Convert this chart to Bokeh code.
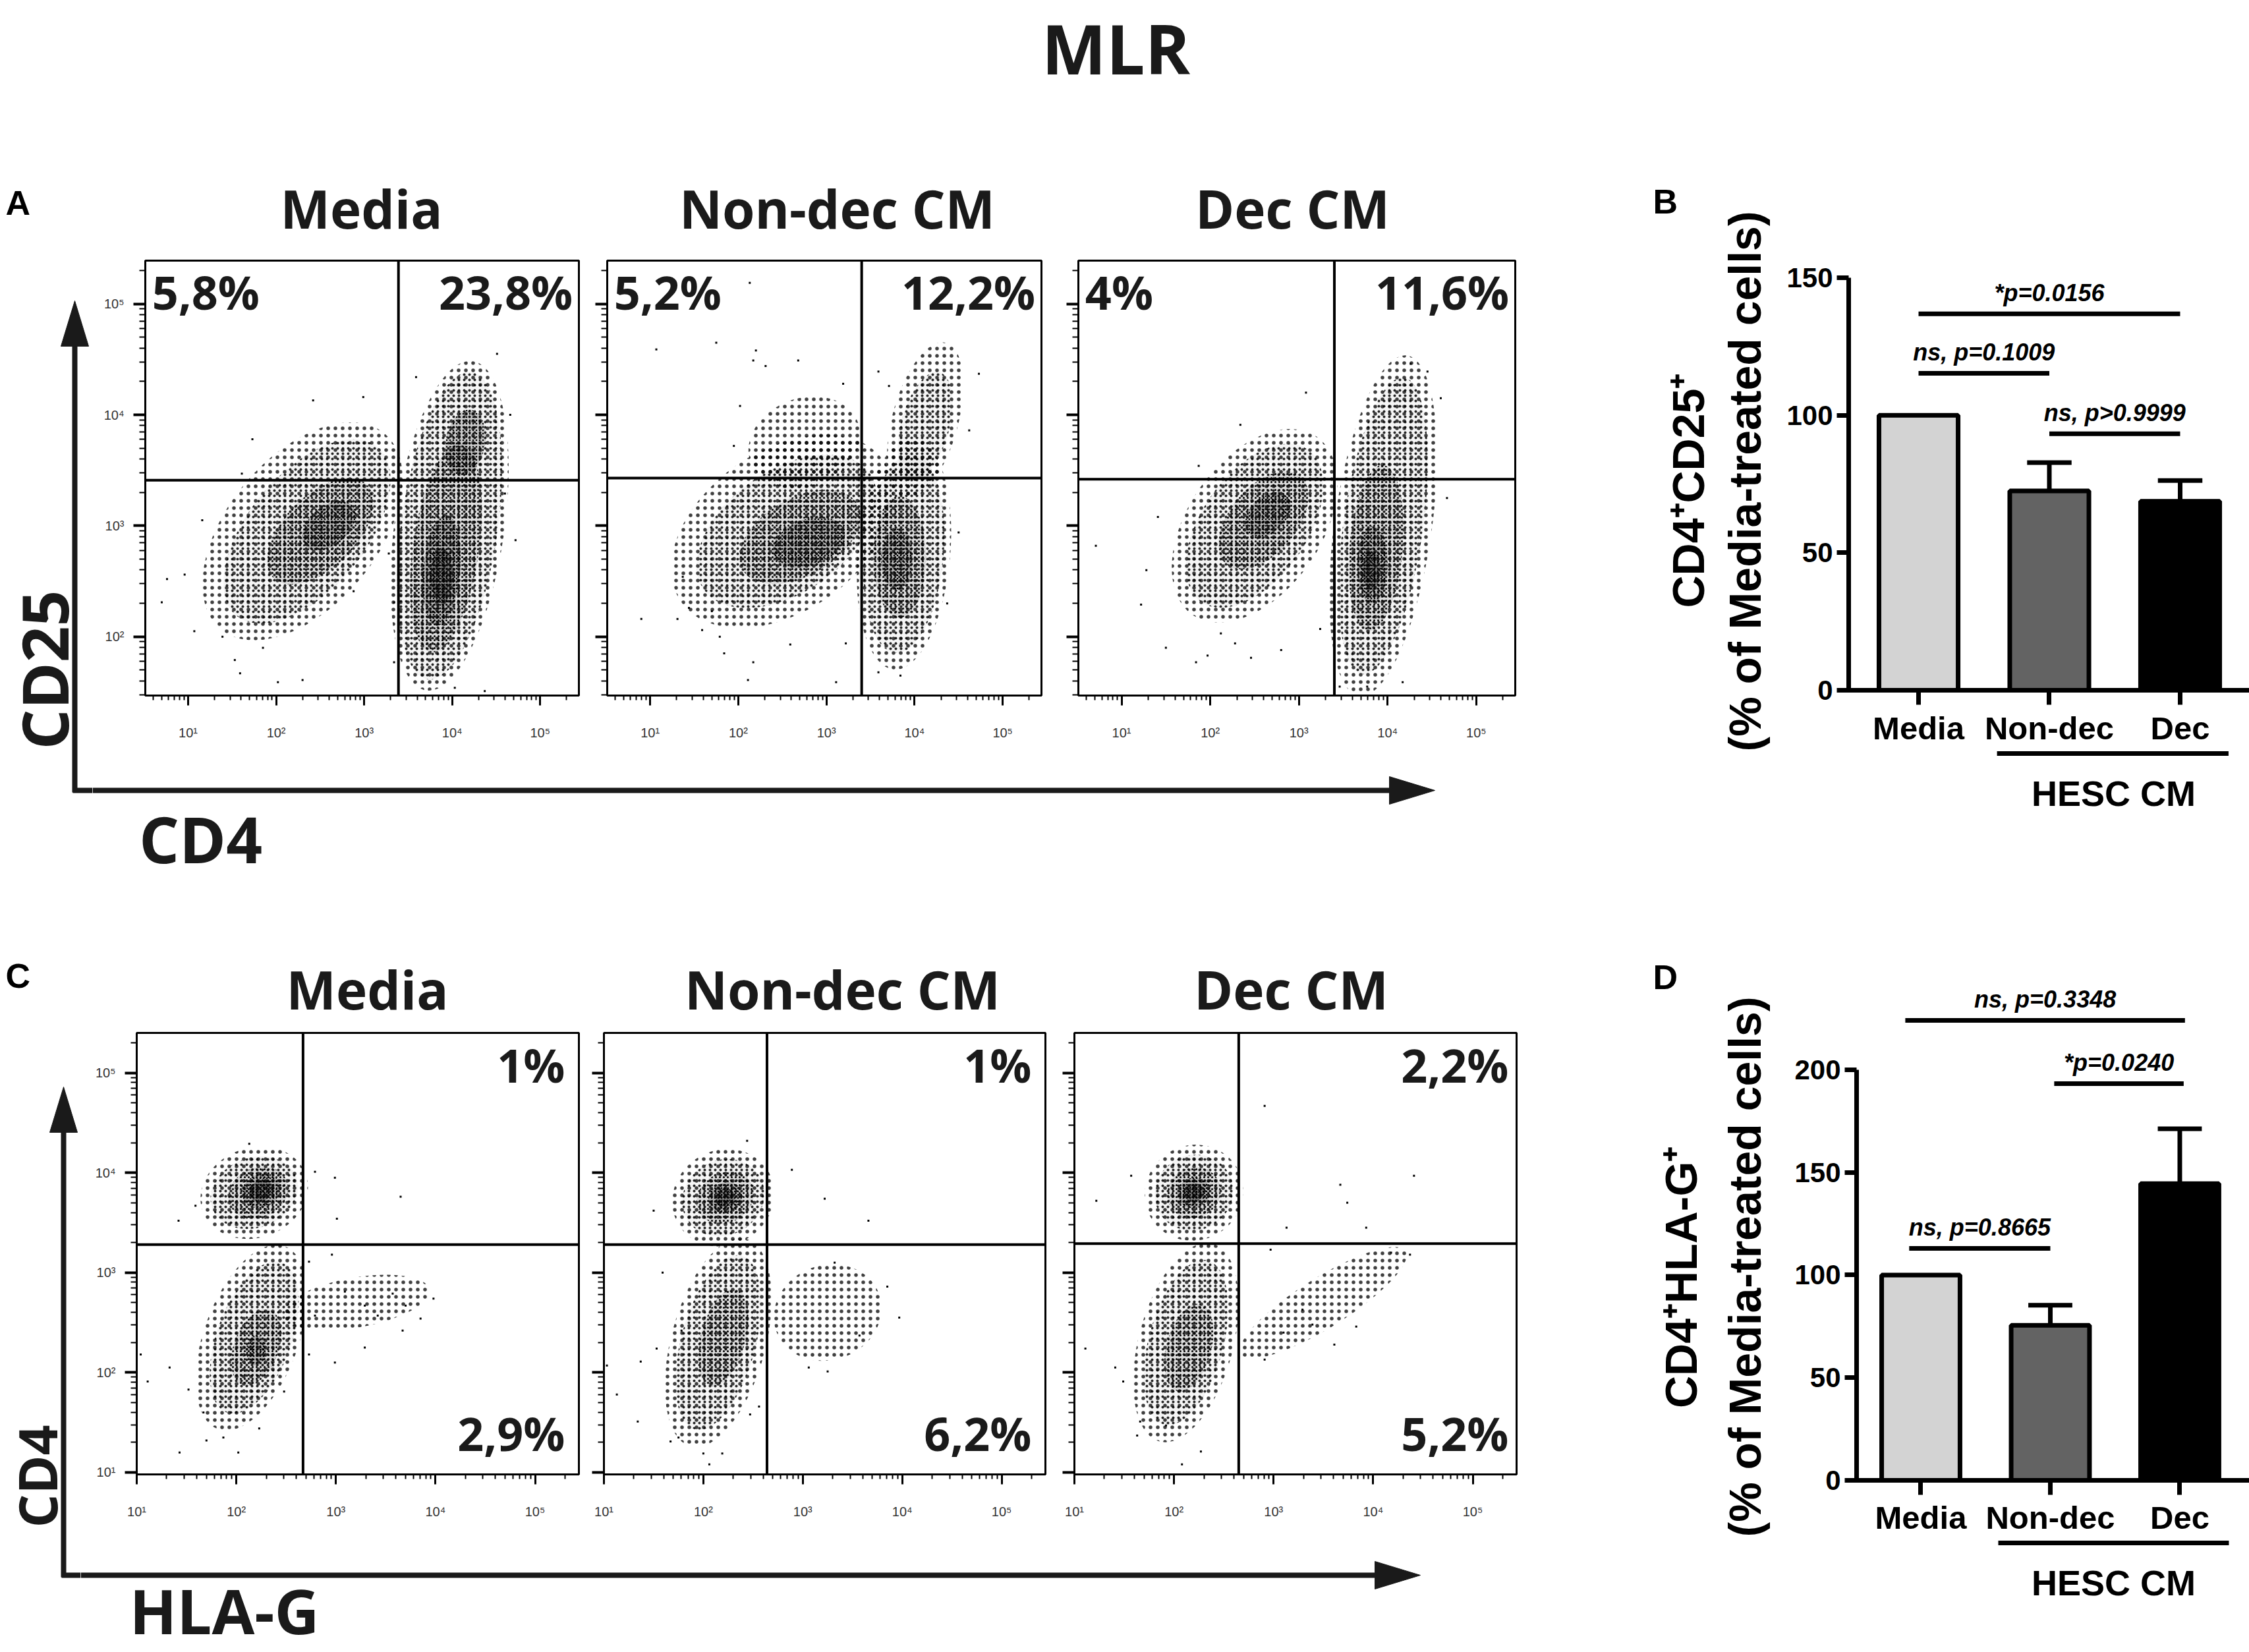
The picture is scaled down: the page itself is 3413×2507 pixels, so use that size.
import math
from bokeh.plotting import figure
from bokeh.layouts import row, column
from bokeh.models import Range1d, FixedTicker, Span, ColumnDataSource
from bokeh.core.properties import value
from bokeh.embed import file_html
from bokeh.resources import INLINE

# ------------------------------------------------------------------ data
fig_title = "MLR"
panel_titles = ["Media", "Non-dec CM", "Dec CM"]
panel_letters = ["A", "B", "C", "D"]
decade_ticks = [1, 2, 3, 4, 5]
decade_labels = ["10\u00b9", "10\u00b2", "10\u00b3", "10\u2074", "10\u2075"]

# flow panels A (CD4 vs CD25), values in log10 units
A_xlabel, A_ylabel = "CD4", "CD25"
A_gate_x = [3.39, 3.40, 3.40]
A_gate_y = [3.41, 3.43, 3.42]
A_pct_upper_left = ["5,8%", "5,2%", "4%"]
A_pct_upper_right = ["23,8%", "12,2%", "11,6%"]

# flow panels C (HLA-G vs CD4)
C_xlabel, C_ylabel = "HLA-G", "CD4"
C_gate_x = [2.67, 2.64, 2.65]
C_gate_y = [3.28, 3.28, 3.29]
C_pct_upper_right = ["1%", "1%", "2,2%"]
C_pct_lower_right = ["2,9%", "6,2%", "5,2%"]

# event clouds:
# (centre log10 x, centre log10 y, width, height [decades], tilt deg, density level)
A_media_pops = [
    (3.97, 3.00, 1.25, 3.00, -8, -1),
    (3.97, 3.00, 1.10, 2.80, -8, 0), (3.93, 2.80, 0.75, 1.90, -8, 1),
    (3.88, 2.60, 0.42, 1.00, -5, 2), (4.15, 3.75, 0.45, 0.60, -10, 2),
    (3.88, 2.55, 0.25, 0.50, 0, 3),
    (2.30, 2.95, 2.90, 1.35, 50, -1),
    (2.35, 2.95, 2.50, 1.05, 50, 0), (2.50, 2.95, 1.50, 0.65, 45, 1),
    (2.60, 3.00, 0.70, 0.35, 40, 2),
]
A_nondec_pops = [
    (2.50, 2.95, 2.80, 1.45, 35, -1), (2.75, 3.75, 1.30, 0.80, 20, -1),
    (2.55, 2.95, 2.30, 1.10, 35, 0),
    (2.70, 2.90, 1.50, 0.70, 30, 1), (2.80, 2.85, 0.85, 0.42, 20, 2),
    (3.88, 2.75, 1.05, 2.10, -5, -1), (4.12, 3.95, 0.75, 1.45, -15, -1),
    (3.88, 2.75, 0.90, 1.80, -5, 0), (4.12, 3.90, 0.55, 1.00, -15, 0),
    (3.83, 2.72, 0.60, 1.10, 0, 1), (3.80, 2.70, 0.36, 0.55, 0, 2),
]
A_dec_pops = [
    (2.50, 3.00, 2.45, 1.20, 55, -1),
    (2.50, 3.00, 2.10, 0.95, 55, 0), (2.60, 3.05, 1.30, 0.60, 50, 1),
    (2.65, 3.10, 0.60, 0.32, 45, 2),
    (3.95, 3.00, 1.10, 3.10, -8, -1),
    (3.95, 3.00, 0.90, 2.70, -8, 0), (3.87, 2.80, 0.60, 1.50, -5, 1),
    (3.83, 2.65, 0.34, 0.70, 0, 2), (3.82, 2.60, 0.20, 0.35, 0, 3),
]
C_media_pops = [
    (2.18, 3.80, 1.10, 0.90, 20, -1),
    (2.18, 3.80, 0.90, 0.70, 20, 0), (2.22, 3.80, 0.62, 0.50, 25, 1),
    (2.25, 3.82, 0.40, 0.33, 30, 2), (2.25, 3.82, 0.25, 0.20, 30, 3),
    (2.15, 2.35, 0.95, 1.95, -20, -1),
    (2.18, 2.35, 0.75, 1.60, -20, 0), (2.20, 2.25, 0.45, 0.80, -20, 1),
    (2.20, 2.22, 0.20, 0.30, 0, 2),
    (3.20, 2.70, 1.50, 0.50, 10, -1),
]
C_nondec_pops = [
    (2.20, 3.75, 1.05, 0.95, 30, -1),
    (2.20, 3.75, 0.85, 0.75, 30, 0), (2.22, 3.75, 0.60, 0.50, 30, 1),
    (2.22, 3.75, 0.35, 0.30, 30, 2), (2.22, 3.75, 0.20, 0.18, 30, 3),
    (2.15, 2.30, 0.95, 2.15, -15, -1),
    (2.15, 2.30, 0.75, 1.80, -15, 0), (2.20, 2.35, 0.45, 1.00, -15, 1),
    (3.25, 2.60, 1.10, 0.95, 20, -1),
]
C_dec_pops = [
    (2.20, 3.80, 1.00, 0.95, 30, -1),
    (2.20, 3.80, 0.80, 0.75, 30, 0), (2.20, 3.80, 0.55, 0.50, 30, 1),
    (2.20, 3.80, 0.33, 0.30, 30, 2), (2.20, 3.80, 0.20, 0.18, 30, 3),
    (2.12, 2.30, 0.95, 2.05, -15, -1),
    (2.12, 2.30, 0.75, 1.70, -15, 0), (2.15, 2.25, 0.45, 0.90, -15, 1),
    (3.50, 2.70, 1.95, 0.50, 32, -1),
]

# isolated events (log10 x, log10 y)
A_media_events_x = [0.70, 0.76, 0.96, 1.07, 1.16, 1.39, 1.53, 1.59, 1.85, 2.02, 2.30, 3.34, 3.34,
                    4.37, 4.03, 3.59, 4.66, 4.51, 1.73, 1.61, 2.99, 2.42, 4.60, 4.72, 2.88, 3.28]
A_media_events_y = [2.31, 2.52, 2.56, 2.05, 3.05, 2.00, 1.79, 1.67, 1.90, 1.59, 1.61, 1.77, 2.31,
                    1.51, 1.54, 4.34, 4.00, 4.55, 3.78, 3.47, 4.16, 4.13, 3.29, 2.87, 2.41, 2.75]
A_nondec_events_x = [1.07, 1.75, 2.13, 2.20, 2.17, 2.31, 2.68, 0.90, 1.31, 1.37, 1.44, 1.59, 1.70,
                     1.79, 1.84, 2.11, 2.17, 2.59, 3.11, 3.22, 3.59, 3.84, 3.59, 3.71, 4.73, 4.62,
                     4.50, 4.37, 3.19, 2.02, 1.95]
A_nondec_events_y = [4.59, 4.65, 5.19, 4.58, 4.49, 4.44, 4.49, 2.16, 2.16, 2.54, 2.26, 2.06, 2.23,
                     2.00, 1.85, 1.61, 1.77, 1.93, 1.59, 1.94, 1.68, 1.65, 4.39, 4.26, 4.37, 3.86,
                     2.94, 2.30, 4.28, 4.08, 3.72]
A_dec_events_x = [0.71, 1.22, 1.28, 1.41, 1.50, 1.84, 1.97, 2.12, 2.28, 2.46, 2.34, 1.87, 3.08,
                  3.24, 3.77, 4.17, 4.60, 4.67, 3.46, 2.80, 4.45, 4.26]
A_dec_events_y = [2.82, 2.29, 2.60, 3.08, 1.90, 1.77, 1.83, 2.03, 1.94, 1.81, 3.91, 3.54, 4.20,
                  2.07, 1.55, 1.59, 4.15, 3.25, 1.55, 1.88, 4.39, 4.46]
C_media_events_x = [1.11, 1.33, 1.42, 1.59, 1.52, 1.67, 1.70, 1.87, 2.02, 1.43, 2.13, 2.79, 2.99,
                    3.01, 3.65, 2.73, 2.96, 2.79, 3.09, 3.29, 3.42, 3.57, 3.70, 3.85, 3.98, 3.29,
                    3.67, 2.99, 2.73, 1.04, 2.23, 2.48]
C_media_events_y = [1.91, 2.05, 3.52, 3.67, 1.83, 1.60, 1.32, 1.35, 1.20, 1.20, 4.29, 4.01, 3.95,
                    3.54, 3.76, 3.11, 3.18, 2.57, 2.81, 2.67, 2.57, 2.79, 2.67, 2.54, 2.74, 2.25,
                    2.42, 2.10, 2.18, 2.18, 1.44, 1.81]
C_nondec_events_x = [1.03, 1.13, 1.34, 1.37, 1.50, 1.59, 1.67, 1.75, 1.78, 2.00, 2.19, 2.47, 2.44,
                     2.89, 3.22, 3.66, 3.97, 3.85, 3.32, 3.06, 3.25, 3.57, 2.56, 1.53, 2.06]
C_nondec_events_y = [2.07, 1.78, 1.51, 2.11, 3.62, 3.00, 1.31, 1.35, 2.42, 1.19, 1.19, 1.58, 4.32,
                     4.03, 3.74, 3.52, 2.55, 2.86, 3.10, 2.05, 2.01, 2.37, 1.66, 2.24, 1.08]
C_dec_events_x = [1.11, 1.22, 1.41, 1.49, 1.57, 1.63, 1.66, 1.92, 2.08, 2.27, 2.91, 3.13, 3.67,
                  3.74, 3.93, 4.41, 2.97, 2.91, 3.10, 3.39, 3.61, 3.83, 4.18, 4.37, 3.29, 2.65]
C_dec_events_y = [2.24, 3.72, 2.05, 1.91, 3.97, 1.37, 1.51, 1.47, 1.08, 1.21, 4.67, 3.45, 3.88,
                  3.70, 3.45, 3.97, 3.23, 2.13, 2.40, 2.48, 2.28, 2.46, 3.20, 3.18, 2.63, 2.15]

# bar charts
bar_categories = ["Media", "Non-dec", "Dec"]
bar_colors = ["#d3d3d3", "#636363", "#000000"]
group_label = "HESC CM"

B_ylabel = ["CD4\u207aCD25\u207a", "(% of Media-treated cells)"]
B_means = [100, 72.5, 68.7]
B_sem = [0, 10.3, 7.6]
B_yticks = [0, 50, 100, 150]
B_sig_x0 = [0, 0, 1]
B_sig_x1 = [2, 1, 2]
B_sig_y = [136.9, 115.3, 93.3]
B_sig_text = ["*p=0.0156", "ns, p=0.1009", "ns, p>0.9999"]

D_ylabel = ["CD4\u207aHLA-G\u207a", "(% of Media-treated cells)"]
D_means = [100, 75.5, 144.5]
D_sem = [0, 9.8, 26.7]
D_yticks = [0, 50, 100, 150, 200]
D_sig_x0 = [-0.12, -0.09, 1.03]
D_sig_x1 = [2.04, 1.00, 2.03]
D_sig_y = [224.0, 113.0, 193.2]
D_sig_text = ["ns, p=0.3348", "ns, p=0.8665", "*p=0.0240"]

# ------------------------------------------------------------------ styles
HUM = value("Open Sans")
ARIAL = value("Liberation Sans")
ARIAL_NAME = "Liberation Sans"
INK = "#1a1a1a"
# level: (hatch spacing, hatch alpha, fill alpha)
LEVEL_STYLE = {-1: (11, 0.75, 0.0), 0: (8, 0.85, 0.04), 1: (6, 1.0, 0.10),
               2: (5, 1.0, 0.18), 3: (4, 1.0, 0.28)}


def base_fig(w, h, xr, yr, **kw):
    p = figure(width=w, height=h, x_range=xr, y_range=yr, title=None,
               toolbar_location=None, output_backend="svg", **kw)
    p.background_fill_color = "white"
    p.border_fill_color = "white"
    return p


def strip(x0, x1, y0, y1):
    p = base_fig(x1 - x0, y1 - y0, Range1d(x0, x1), Range1d(y1, y0),
                 x_axis_location=None, y_axis_location=None, min_border=0)
    p.grid.visible = False
    p.outline_line_color = None
    return p


def big_text(p, x, y, t, size, font=HUM, align="center", angle=0.0,
             style="bold", color=INK):
    p.text(x=x, y=y, text=t, angle=angle, text_font=font, text_font_style=style,
           text_font_size=size, text_align=align, text_baseline="middle", text_color=color)


def arrow_v(p, x, y_base, y_tip, head_len=69, half=21, lw=8):
    p.segment(x0=[x], y0=[y_base + 3], x1=[x], y1=[y_tip + head_len - 4],
              line_width=lw, line_color=INK)
    p.patch(x=[x - half, x + half, x], y=[y_tip + head_len, y_tip + head_len, y_tip],
            fill_color=INK, line_color=INK, line_width=1)


def arrow_h(p, x_start, y, x_tip, head_len=69, half=21, lw=8):
    p.segment(x0=[x_start], y0=[y], x1=[x_tip - head_len + 4], y1=[y],
              line_width=lw, line_color=INK)
    p.patch(x=[x_tip - head_len, x_tip - head_len, x_tip], y=[y - half, y + half, y],
            fill_color=INK, line_color=INK, line_width=1)


def add_pops(p, pops):
    for lvl in sorted(set(t[5] for t in pops)):
        sel = [t for t in pops if t[5] == lvl]
        src = ColumnDataSource(dict(
            x=[t[0] for t in sel], y=[t[1] for t in sel],
            w=[t[2] for t in sel], h=[t[3] for t in sel],
            a=[math.radians(t[4]) for t in sel]))
        sc, al, fa = LEVEL_STYLE[lvl]
        p.ellipse(x="x", y="y", width="w", height="h", angle="a", source=src,
                  fill_color="black", fill_alpha=fa, line_color=None, hatch_pattern="dot",
                  hatch_scale=sc, hatch_color="black", hatch_alpha=al)


def flow_panel(x0, x1, y0, y1, fl, fr, ft, fb, xr, yr, ylabels, pops, ev_x, ev_y, gx, gy,
               tl=None, tr=None, br=None, tl_x=0.59, tr_x=5.37, top_y=5.105, br_y=1.39):
    p = base_fig(x1 - x0, y1 - y0, Range1d(*xr), Range1d(*yr),
                 min_border_left=fl - x0, min_border_right=x1 - fr,
                 min_border_top=ft - y0, min_border_bottom=y1 - fb)
    p.grid.visible = False
    p.outline_line_color = "black"
    p.outline_line_width = 3
    minor = [d + math.log10(k) for d in range(0, 6) for k in range(2, 10)]
    for ax, rng in ((p.xaxis, xr), (p.yaxis, yr)):
        ax.ticker = FixedTicker(ticks=decade_ticks,
                                minor_ticks=[m for m in minor if rng[0] < m < rng[1]])
        ax.axis_line_color = None
        ax.major_tick_in = 0
        ax.minor_tick_in = 0
        ax.major_label_text_font = ARIAL_NAME
        ax.major_label_text_font_size = "20px"
        ax.major_label_text_color = "#333333"
    p.xaxis.major_label_overrides = dict(zip(decade_ticks, decade_labels))
    p.xaxis.major_tick_out = 15
    p.xaxis.minor_tick_out = 7
    p.xaxis.major_tick_line_width = 3
    p.xaxis.minor_tick_line_width = 2
    p.xaxis.major_label_standoff = 30
    p.yaxis.major_tick_out = 18
    p.yaxis.minor_tick_out = 9
    p.yaxis.major_tick_line_width = 4
    p.yaxis.minor_tick_line_width = 2
    if ylabels:
        p.yaxis.major_label_overrides = dict(zip(decade_ticks, decade_labels))
        p.yaxis.major_label_standoff = 14
    else:
        p.yaxis.major_label_overrides = {t: "" for t in decade_ticks}
        p.yaxis.major_label_standoff = 0
        p.yaxis.major_label_text_font_size = "0px"
    add_pops(p, pops)
    p.scatter(x=ev_x, y=ev_y, marker="square", size=3, fill_color="black", line_color=None)
    p.add_layout(Span(location=gx, dimension="height", line_color="black", line_width=4))
    p.add_layout(Span(location=gy, dimension="width", line_color="black", line_width=4))
    if tl:
        big_text(p, [tl_x], [top_y], [tl], "70px", align="left")
    if tr:
        big_text(p, [tr_x], [top_y], [tr], "70px", align="right")
    if br:
        big_text(p, [tr_x], [br_y], [br], "70px", align="right")
    return p


def bar_panel(x0, x1, y0, y1, xr, yr, yaxis_x, yticks, means, sems,
              sx0, sx1, sy, stext, ylab, letter, letter_xy, ylab_pos, hesc_pos, line_pos):
    p = base_fig(x1 - x0, y1 - y0, Range1d(*xr), Range1d(*yr), min_border=0)
    p.grid.visible = False
    p.outline_line_color = None
    idx = list(range(len(bar_categories)))
    p.vbar(x=idx, top=means, bottom=0, width=0.605, fill_color=bar_colors,
           line_color="black", line_width=7)
    ex = [i for i in idx if sems[i] > 0]
    tops = [means[i] + sems[i] for i in ex]
    p.segment(x0=ex, y0=[means[i] for i in ex], x1=ex, y1=tops, line_color="black", line_width=7)
    p.segment(x0=[i - 0.17 for i in ex], y0=tops, x1=[i + 0.17 for i in ex], y1=tops,
              line_color="black", line_width=7)
    p.segment(x0=sx0, y0=sy, x1=sx1, y1=sy, line_color="black", line_width=7)
    p.text(x=[(a + b) / 2 for a, b in zip(sx0, sx1)], y=sy, text=stext, y_offset=-32,
           text_font=ARIAL, text_font_style="bold italic", text_font_size="36px",
           text_align="center", text_baseline="middle", text_color="black")
    # axes
    p.yaxis.fixed_location = yaxis_x
    p.xaxis.fixed_location = 0
    p.yaxis.bounds = (yticks[0], yticks[-1])
    p.xaxis.bounds = (yaxis_x - 0.055, xr[1])
    p.yaxis.ticker = FixedTicker(ticks=yticks)
    p.xaxis.ticker = FixedTicker(ticks=idx)
    p.xaxis.major_label_overrides = dict(zip(idx, bar_categories))
    for ax in (p.xaxis, p.yaxis):
        ax.axis_line_width = 7
        ax.axis_line_color = "black"
        ax.major_tick_line_width = 7
        ax.major_tick_in = 0
        ax.minor_tick_line_color = None
        ax.major_label_text_font = ARIAL_NAME
        ax.major_label_text_font_style = "bold"
        ax.major_label_text_color = "black"
    p.yaxis.major_tick_out = 18
    p.yaxis.major_label_text_font_size = "42px"
    p.yaxis.major_label_standoff = 6
    p.xaxis.major_tick_out = 22
    p.xaxis.major_label_text_font_size = "49px"
    p.xaxis.major_label_standoff = 8
    # texts
    big_text(p, [letter_xy[0]], [letter_xy[1]], [letter], "52px", font=ARIAL, align="left",
             color="black")
    big_text(p, [ylab_pos[0], ylab_pos[1]], [ylab_pos[2], ylab_pos[3]], ylab, "68px",
             font=ARIAL, angle=math.pi / 2, color="black")
    big_text(p, [hesc_pos[0]], [hesc_pos[1]], [group_label], "54px", font=ARIAL, color="black")
    p.segment(x0=[line_pos[0]], y0=[line_pos[2]], x1=[line_pos[1]], y1=[line_pos[2]],
              line_color="black", line_width=7)
    return p


# ------------------------------------------------------------------ title band
T = strip(0, 3413, 0, 250)
big_text(T, [1693], [72], [fig_title], "104px")

# ------------------------------------------------------------------ group A
LA = strip(0, 140, 250, 1340)
big_text(LA, [8], [307], [panel_letters[0]], "52px", font=ARIAL, align="left", color="black")
arrow_v(LA, 113, 1199, 456)
LA.segment(x0=[110], y0=[1199], x1=[140], y1=[1199], line_width=8, line_color=INK)
big_text(LA, [66], [1016], [A_ylabel], "96px", angle=math.pi / 2)

TA = strip(140, 2420, 250, 380)
big_text(TA, [548, 1270, 1961], [315] * 3, panel_titles, "80px")

A_xr, A_yr = (0.513, 5.44), (1.47, 5.39)
S1A = flow_panel(140, 899, 380, 1150, 220, 878, 395, 1055, A_xr, A_yr, True, A_media_pops,
                 A_media_events_x, A_media_events_y, A_gate_x[0], A_gate_y[0],
                 tl=A_pct_upper_left[0], tr=A_pct_upper_right[0])
S2A = flow_panel(899, 1608, 380, 1150, 921, 1580, 395, 1055, A_xr, A_yr, False, A_nondec_pops,
                 A_nondec_events_x, A_nondec_events_y, A_gate_x[1], A_gate_y[1],
                 tl=A_pct_upper_left[1], tr=A_pct_upper_right[1])
S3A = flow_panel(1608, 2420, 380, 1150, 1636, 2299, 395, 1055, A_xr, A_yr, False, A_dec_pops,
                 A_dec_events_x, A_dec_events_y, A_gate_x[2], A_gate_y[2],
                 tl=A_pct_upper_left[2], tr=A_pct_upper_right[2])

BA = strip(140, 2420, 1150, 1340)
arrow_h(BA, 140, 1199, 2177)
big_text(BA, [304], [1272], [A_xlabel], "96px")

BAR_B = bar_panel(2420, 3413, 250, 1340, (-2.4736, 2.529), (-70.2, 191.0), -0.534, B_yticks,
                  B_means, B_sem, B_sig_x0, B_sig_x1, B_sig_y, B_sig_text, B_ylabel,
                  panel_letters[1], (-2.03, 177.6), (-1.763, -1.330, 72.6, 76.0),
                  (1.491, -37.4), (0.60, 2.37, -23.0))

# ------------------------------------------------------------------ group C
LC = strip(0, 122, 1340, 2507)
big_text(LC, [8], [1480], [panel_letters[2]], "52px", font=ARIAL, align="left", color="black")
arrow_v(LC, 96, 2390, 1649)
LC.segment(x0=[93], y0=[2390], x1=[122], y1=[2390], line_width=8, line_color=INK)
big_text(LC, [55], [2240], [C_ylabel], "80px", angle=math.pi / 2)

TC = strip(122, 2420, 1340, 1555)
big_text(TC, [557, 1278, 1959], [1500] * 3, panel_titles, "80px")

C_xr, C_yr = (1.0, 5.44), (0.98, 5.40)
S1C = flow_panel(122, 897, 1555, 2340, 207, 878, 1567, 2237, C_xr, C_yr, True, C_media_pops,
                 C_media_events_x, C_media_events_y, C_gate_x[0], C_gate_y[0],
                 tr=C_pct_upper_right[0], br=C_pct_lower_right[0],
                 tr_x=5.30, top_y=5.083, br_y=1.39)
S2C = flow_panel(897, 1608, 1555, 2340, 916, 1586, 1567, 2237, C_xr, C_yr, False, C_nondec_pops,
                 C_nondec_events_x, C_nondec_events_y, C_gate_x[1], C_gate_y[1],
                 tr=C_pct_upper_right[1], br=C_pct_lower_right[1],
                 tr_x=5.30, top_y=5.083, br_y=1.39)
S3C = flow_panel(1608, 2420, 1555, 2340, 1630, 2301, 1567, 2237, C_xr, C_yr, False, C_dec_pops,
                 C_dec_events_x, C_dec_events_y, C_gate_x[2], C_gate_y[2],
                 tr=C_pct_upper_right[2], br=C_pct_lower_right[2],
                 tr_x=5.36, top_y=5.083, br_y=1.39)

BC = strip(122, 2420, 2340, 2507)
arrow_h(BC, 122, 2390, 2155)
big_text(BC, [340], [2443], [C_xlabel], "94px")

BAR_D = bar_panel(2420, 3413, 1340, 2507, (-2.5165, 2.537), (-83.8, 290.8), -0.496, D_yticks,
                  D_means, D_sem, D_sig_x0, D_sig_x1, D_sig_y, D_sig_text, D_ylabel,
                  panel_letters[3], (-2.069, 245.0), (-1.85, -1.361, 98.9, 104.0),
                  (1.489, -49.8), (0.598, 2.379, -30.5))

# ------------------------------------------------------------------ layout
rowA = row(LA, column(TA, row(S1A, S2A, S3A, spacing=0), BA, spacing=0), BAR_B, spacing=0)
rowC = row(LC, column(TC, row(S1C, S2C, S3C, spacing=0), BC, spacing=0), BAR_D, spacing=0)
layout = column(T, rowA, rowC, spacing=0)

open("out.html", "w").write(file_html(layout, INLINE, title="MLR"))
